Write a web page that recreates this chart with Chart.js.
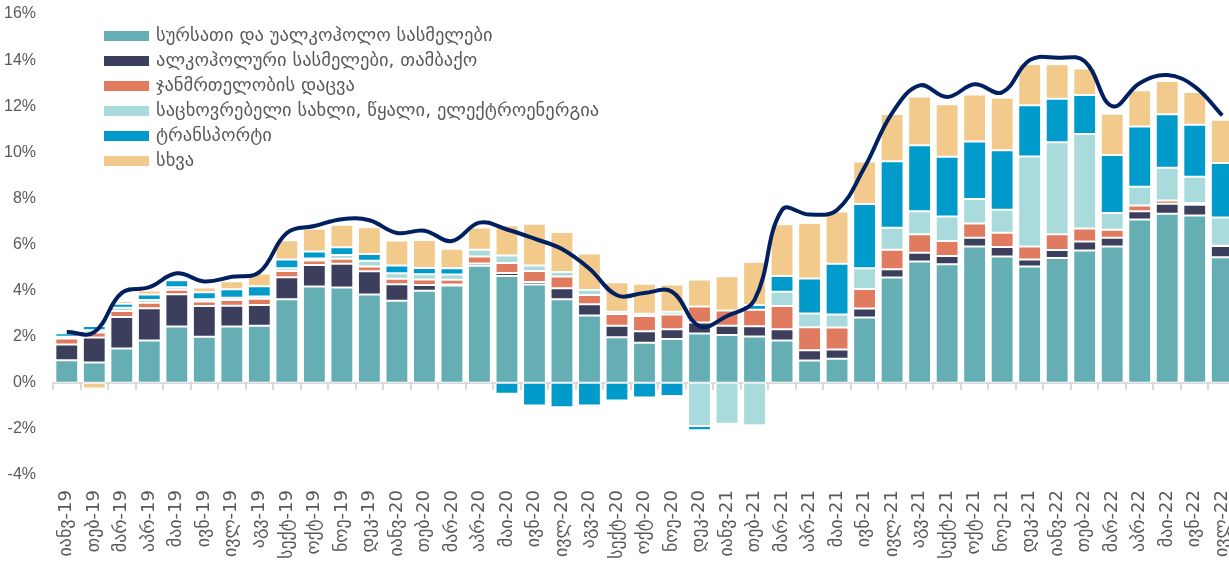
<!DOCTYPE html>
<html>
<head>
<meta charset="utf-8">
<script src="https://cdn.jsdelivr.net/npm/chart.js@4.4.1/dist/chart.umd.min.js"></script>
<style>
  html, body { margin: 0; padding: 0; background: #fff; overflow: hidden; }
  #wrap { width: 1237px; height: 562px; }
</style>
</head>
<body>
<div id="wrap"><canvas id="myChart" width="1237" height="562"></canvas></div>
<script>
const categories = [
  "იანვ-19", "თებ-19", "მარ-19", "აპრ-19", "მაი-19", "ივნ-19", "ივლ-19", "აგვ-19", "სექტ-19", "ოქტ-19", "ნოე-19", "დეკ-19",
  "იანვ-20", "თებ-20", "მარ-20", "აპრ-20", "მაი-20", "ივნ-20", "ივლ-20", "აგვ-20", "სექტ-20", "ოქტ-20", "ნოე-20", "დეკ-20",
  "იანვ-21", "თებ-21", "მარ-21", "აპრ-21", "მაი-21", "ივნ-21", "ივლ-21", "აგვ-21", "სექტ-21", "ოქტ-21", "ნოე-21", "დეკ-21",
  "იანვ-22", "თებ-22", "მარ-22", "აპრ-22", "მაი-22", "ივნ-22", "ივლ-22"
];

const food = [0.98, 0.88, 1.49, 1.84, 2.44, 2.0, 2.44, 2.47, 3.63, 4.18, 4.13, 3.83,
  3.56, 3.99, 4.22, 5.08, 4.63, 4.27, 3.63, 2.92, 1.98, 1.74, 1.9, 2.14,
  2.07, 2.01, 1.84, 0.97, 1.04, 2.83, 4.57, 5.26, 5.14, 5.91, 5.48, 5.05,
  5.41, 5.74, 5.91, 7.09, 7.33, 7.26, 5.45];
const alcohol = [0.68, 1.08, 1.37, 1.39, 1.4, 1.33, 0.9, 0.9, 0.95, 0.93, 1.03, 1.01,
  0.72, 0.25, 0.05, 0.1, 0.13, 0.1, 0.47, 0.49, 0.5, 0.5, 0.42, 0.48,
  0.4, 0.44, 0.48, 0.44, 0.4, 0.39, 0.36, 0.38, 0.36, 0.38, 0.41, 0.3,
  0.35, 0.39, 0.38, 0.35, 0.44, 0.46, 0.48];
const health = [0.26, 0.22, 0.26, 0.24, 0.2, 0.2, 0.25, 0.28, 0.27, 0.2, 0.22, 0.21,
  0.23, 0.24, 0.2, 0.3, 0.44, 0.48, 0.51, 0.4, 0.51, 0.66, 0.64, 0.69,
  0.67, 0.72, 1.01, 1.0, 0.96, 0.85, 0.84, 0.8, 0.65, 0.62, 0.62, 0.56,
  0.68, 0.56, 0.35, 0.25, 0.14, 0.08, 0.02];
const housing = [0.08, 0.1, 0.14, 0.12, 0.11, 0.1, 0.1, 0.09, 0.12, 0.08, 0.16, 0.24,
  0.24, 0.23, 0.23, 0.29, 0.32, 0.24, 0.2, 0.22, 0.09, 0.1, 0.12, -1.87,
  -1.78, -1.84, 0.62, 0.6, 0.56, 0.9, 0.96, 1.0, 1.06, 1.06, 1.0, 3.91,
  4.0, 4.1, 0.73, 0.82, 1.42, 1.14, 1.22];
const transport = [0.15, 0.18, 0.17, 0.24, 0.3, 0.3, 0.37, 0.45, 0.38, 0.31, 0.34, 0.3,
  0.34, 0.27, 0.27, 0, -0.47, -0.98, -1.06, -0.98, -0.77, -0.64, -0.57, -0.19,
  -0.07, 0.2, 0.68, 1.52, 2.2, 2.79, 2.88, 2.87, 2.6, 2.5, 2.58, 2.22,
  1.88, 1.7, 2.51, 2.61, 2.32, 2.25, 2.37];
const other = [0, -0.25, 0.12, 0.17, 0.05, 0.2, 0.35, 0.55, 0.83, 0.98, 0.98, 1.16,
  1.08, 1.21, 0.85, 0.97, 1.32, 1.81, 1.73, 1.58, 1.28, 1.3, 1.18, 1.17,
  1.48, 1.88, 2.25, 2.4, 2.27, 1.84, 2.05, 2.11, 2.27, 2.04, 2.28, 1.79,
  1.5, 1.15, 1.79, 1.57, 1.44, 1.43, 1.87];
const totalCpi = [2.2, 2.2, 3.9, 4.15, 4.75, 4.4, 4.6, 4.8, 6.5, 6.8, 7.1, 7.05,
  6.5, 6.6, 6.15, 6.95, 6.65, 6.25, 5.8, 4.95, 3.8, 3.9, 3.95, 2.45,
  2.9, 3.6, 7.5, 7.3, 7.5, 9.35, 11.7, 12.9, 12.4, 12.95, 12.6, 14.0,
  14.1, 13.95, 12.0, 13.0, 13.35, 12.85, 11.6];

const yTicks = [-4, -2, 0, 2, 4, 6, 8, 10, 12, 14, 16];

const groupNames = [
  "სურსათი და უალკოჰოლო სასმელები",
  "ალკოჰოლური სასმელები, თამბაქო",
  "ჯანმრთელობის დაცვა",
  "საცხოვრებელი სახლი, წყალი, ელექტროენერგია",
  "ტრანსპორტი",
  "სხვა"
];
const groupColors = ["#64aeb4", "#3c3f5c", "#e07b5f", "#a9dadc", "#009bcb", "#f2cb8c"];
const groupValues = [food, alcohol, health, housing, transport, other];

// legend drawn inside the plot, top left
const insideLegend = {
  id: "insideLegend",
  afterDraw(chart) {
    const ctx = chart.ctx;
    ctx.save();
    ctx.font = '18.5px "DejaVu Sans", sans-serif';
    ctx.textBaseline = "middle";
    groupNames.forEach((name, i) => {
      const y = 36 + i * 25;
      ctx.fillStyle = groupColors[i];
      ctx.fillRect(104, y - 5, 45, 10);
      ctx.fillStyle = "#595959";
      ctx.fillText(name, 156, y);
    });
    ctx.restore();
  },
};

const barSets = groupNames.map((name, i) => ({
  type: "bar",
  label: name,
  data: groupValues[i],
  backgroundColor: groupColors[i],
  borderColor: "#ffffff",
  borderWidth: 1,
  borderSkipped: false,
  barPercentage: 0.83,
  categoryPercentage: 1.0,
  order: 1,
}));

new Chart(document.getElementById("myChart"), {
  data: {
    labels: categories,
    datasets: [
      ...barSets,
      {
        type: "line",
        label: "ინფლაცია",
        data: totalCpi,
        borderColor: "#002060",
        borderWidth: 4,
        pointRadius: 0,
        tension: 0.4,
        fill: false,
        order: 0,
      },
    ],
  },
  options: {
    responsive: false,
    animation: false,
    layout: { padding: { top: 14, right: 1, left: 0, bottom: 0 } },
    plugins: {
      legend: { display: false },
      tooltip: { enabled: false },
    },
    scales: {
      x: {
        stacked: true,
        offset: true,
        grid: { display: false, drawTicks: false },
        border: { display: false },
        ticks: {
          autoSkip: false,
          minRotation: 90,
          maxRotation: 90,
          padding: 15,
          color: "#595959",
          font: { family: '"DejaVu Sans", sans-serif', size: 18 },
        },
        afterFit(scale) {
          scale.height = 87;
          scale.paddingLeft = 0;
          scale.paddingRight = 0;
        },
      },
      x2: {
        type: "category",
        position: { y: 0 },
        offset: true,
        z: 1,
        grid: { offset: true, drawOnChartArea: false, tickLength: 6, color: "#d9d9d9", lineWidth: 2 },
        border: { display: true, color: "#d9d9d9", width: 2 },
        ticks: { display: false },
      },
      y: {
        stacked: true,
        min: -4,
        max: 16,
        afterBuildTicks(scale) { scale.ticks = yTicks.map(v => ({ value: v })); },
        grid: { display: false, drawTicks: false },
        border: { display: false },
        ticks: {
          padding: 17,
          color: "#595959",
          font: { family: '"Liberation Sans", sans-serif', size: 16 },
          callback: v => v + "%",
        },
        afterFit(scale) {
          scale.width = 53;
          scale.paddingTop = 9;
          scale.paddingBottom = 9;
        },
      },
    },
  },
  plugins: [insideLegend],
});
</script>
</body>
</html>
